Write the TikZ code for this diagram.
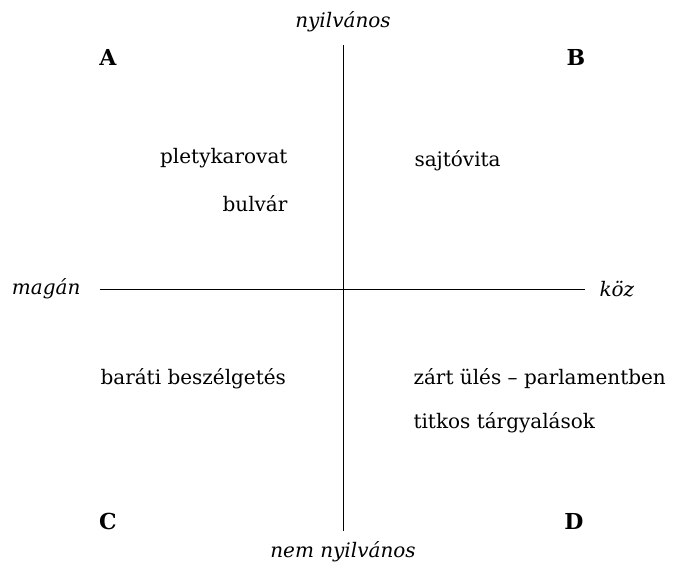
\documentclass[tikz,border=0pt]{standalone}
\usepackage{fontspec}
\setmainfont{DejaVu Serif}
\usetikzlibrary{positioning}

\begin{document}
\begin{tikzpicture}[x=1pt,y=-1pt]
    \pgfmathsetmacro{\cx}{343}
    \pgfmathsetmacro{\cy}{289}
    \tikzset{every node/.style={font=\fontsize{20}{22}\selectfont},
             axislabel/.style={font=\fontsize{20}{22}\selectfont\itshape},
             corner/.style={font=\fontsize{22}{26}\selectfont\bfseries}}
    \useasboundingbox (0,0) rectangle (673,566);
    % axes
    \node[axislabel] (nyilv) at (\cx,22) {nyilvános};
    \node[axislabel] (nemnyilv) at (\cx,552) {nem nyilvános};
    \node[axislabel,anchor=east] (magan) at (84,\cy) {magán};
    \node[axislabel,anchor=west] (koz) at (596,\cy) {köz};
    \coordinate (top) at (\cx,45);
    \coordinate (bottom) at (\cx,531);
    \coordinate (left) at (100,\cy);
    \coordinate (right) at (585,\cy);
    \draw[line width=0.8pt] (top) -- (bottom);
    \draw[line width=0.8pt] (left) -- (right);
    % quadrants
    \node[corner] (A) at (108,57) {A};
    \node[corner] (B) at (576,57) {B};
    \node[corner] (C) at (108,521) {C};
    \node[corner] (D) at (574,521) {D};
    % entries
    \node[anchor=east] (pletyka) at (291,158) {pletykarovat};
    \node[anchor=east] (bulvar) at (291,204) {bulvár};
    \node[anchor=west] (sajto) at (411,161) {sajtóvita};
    \node[anchor=west] (barati) at (97,379) {baráti beszélgetés};
    \node[anchor=west] (zart) at (410,379) {zárt ülés – parlamentben};
    \node[anchor=west] (titkos) at (410,423) {titkos tárgyalások};
\end{tikzpicture}
\end{document}
